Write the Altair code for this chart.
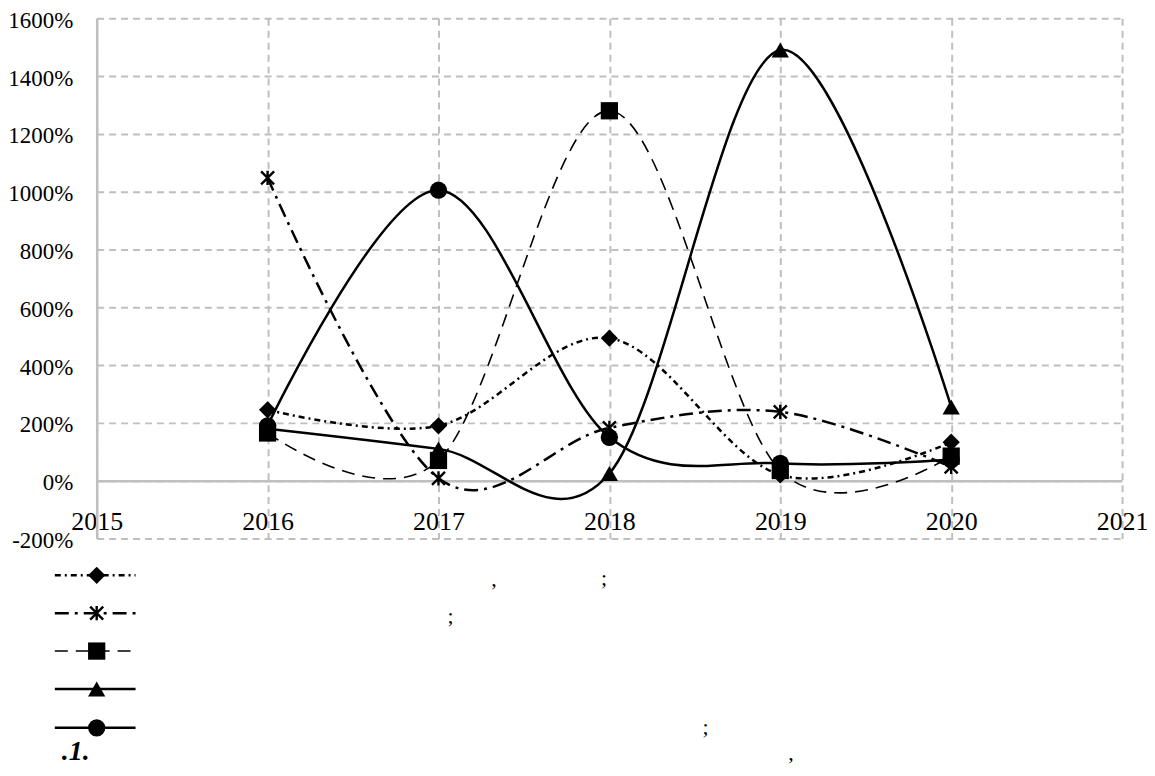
import altair as alt
import pandas as pd

# ---- data ----
years = [2016, 2017, 2018, 2019, 2020]
diamond_vals = [245, 190, 493, 20, 133]
star_vals = [1048, 8, 183, 238, 48]
square_vals = [165, 70, 1280, 35, 85]
triangle_vals = [180, 110, 25, 1490, 255]
circle_vals = [190, 1005, 150, 60, 72]

y_ticks = [-200, 0, 200, 400, 600, 800, 1000, 1200, 1400, 1600]
x_ticks = [2015, 2016, 2017, 2018, 2019, 2020, 2021]

STAR = "M-1,-1L1,1M-1,1L1,-1M0,-1.1L0,1.1"

series = [
    dict(key="s1", vals=diamond_vals, dash=[6, 4, 2, 4], width=2.5, shape="diamond", size=300, filled=True),
    dict(key="s2", vals=star_vals, dash=[14, 6, 3, 6], width=2.5, shape=STAR, size=170, filled=False),
    dict(key="s3", vals=square_vals, dash=[13, 8], width=1.6, shape="square", size=300, filled=True),
    dict(key="s4", vals=triangle_vals, dash=None, width=2.5, shape="triangle-up", size=300, filled=True),
    dict(key="s5", vals=circle_vals, dash=None, width=2.5, shape="circle", size=300, filled=True),
]

FONT = "Liberation Serif"
GRID = "#bfbfbf"

W, H = 1029, 522
PAD = {"left": 89, "top": 9, "right": 25, "bottom": 229}

x_scale = alt.Scale(domain=[2015, 2021], nice=False, zero=False)
y_scale = alt.Scale(domain=[-200, 1600], nice=False, zero=False)

x_axis = alt.Axis(values=x_ticks, format="d", title=None, offset=-58,
                  domain=True, domainColor=GRID, domainWidth=2.5,
                  ticks=False, grid=True, gridColor=GRID, gridDash=[7, 5], gridWidth=2,
                  labelFont=FONT, labelFontSize=26, labelColor="black",
                  labelPadding=28, labelBaseline="top", labelFlush=False)
y_axis = alt.Axis(values=y_ticks, title=None, labelExpr="datum.value + '%'",
                  domain=True, domainColor=GRID, domainWidth=2.5,
                  ticks=False, grid=True, gridColor=GRID, gridDash=[7, 5], gridWidth=2,
                  labelFont=FONT, labelFontSize=23, labelColor="black", labelPadding=24,
                  labelOffset=2, labelFlush=False)

enc = lambda: dict(x=alt.X("year:Q", scale=x_scale, axis=x_axis),
                   y=alt.Y("v:Q", scale=y_scale, axis=y_axis))

layers = []
row_y = [559, 597, 635, 673, 712]
for i, s in enumerate(series):
    df = pd.DataFrame({"year": years, "v": s["vals"]})
    line_kw = dict(color="black", strokeWidth=s["width"], interpolate="cardinal", tension=0)
    if s["dash"]:
        line_kw["strokeDash"] = s["dash"]
    layers.append(alt.Chart(df).mark_line(**line_kw).encode(**enc()))
    if s["filled"]:
        pt_kw = dict(filled=True, color="black", shape=s["shape"], size=s["size"], opacity=1)
    else:
        pt_kw = dict(filled=False, color="black", stroke="black", strokeWidth=2.4,
                     shape=s["shape"], size=s["size"], opacity=1)
    layers.append(alt.Chart(df).mark_point(**pt_kw).encode(**enc()))

    # legend sample
    leg_df = pd.DataFrame({"k": [s["key"]]})
    rule_kw = dict(color="black", strokeWidth=s["width"])
    if s["dash"]:
        rule_kw["strokeDash"] = s["dash"]
    layers.append(alt.Chart(leg_df).mark_rule(**rule_kw).encode(
        x=alt.value(-42), x2=alt.value(39), y=alt.value(row_y[i])))
    layers.append(alt.Chart(leg_df).mark_point(**pt_kw).encode(
        x=alt.value(0), y=alt.value(row_y[i])))

# visible text below the chart (legend punctuation and caption)
texts = [
    (",", 396, 570, "normal", "normal", 22),
    (";", 506, 569, "normal", "normal", 22),
    (";", 352, 607, "normal", "normal", 22),
    (";", 608, 718, "normal", "normal", 22),
    (",", 694, 744, "normal", "normal", 22),
    (".1.", -35, 744, "bold", "italic", 28),
]
for t, tx, ty, fw, fs, fz in texts:
    layers.append(alt.Chart(pd.DataFrame({"t": [t]})).mark_text(
        font=FONT, fontSize=fz, fontWeight=fw, fontStyle=fs, color="black",
        align="left", baseline="alphabetic").encode(
        text="t:N", x=alt.value(tx), y=alt.value(ty)))

chart = alt.layer(*layers).properties(
    width=W, height=H, padding=PAD,
    autosize=alt.AutoSizeParams(type="none"),
    background="white",
).configure_view(stroke=None)

chart.save("out.html", embed_options={"renderer": "svg", "actions": False})
